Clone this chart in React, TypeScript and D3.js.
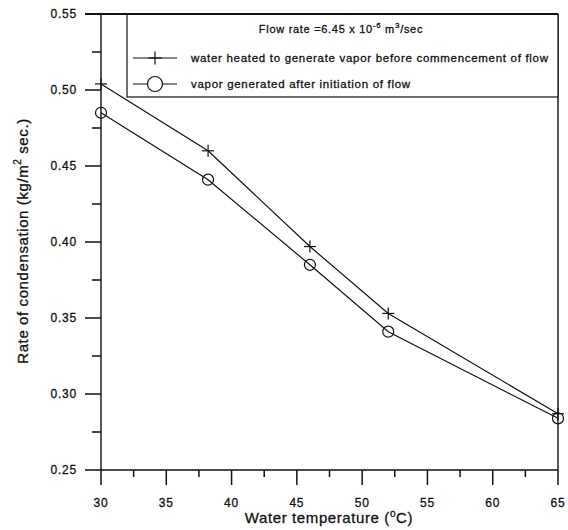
import React from "react";
import * as d3 from "d3";

// Water temperature (°C) at each measurement
const temperatures = [30, 38.2, 46, 52, 65];
// Rate of condensation (kg/m² sec.)
const preHeated = [0.504, 0.46, 0.397, 0.353, 0.287];
const afterFlow = [0.485, 0.441, 0.385, 0.341, 0.284];

const xTicks = [30, 35, 40, 45, 50, 55, 60, 65];
const yTicks = [0.25, 0.3, 0.35, 0.4, 0.45, 0.5, 0.55];

const seriesNames = [
  "water heated to generate vapor before commencement of flow",
  "vapor generated after initiation of flow",
];

const W = 568;
const H = 530;
const left = 101;
const right = 558;
const top = 14;
const bottom = 470;
const font = "Arial, 'Liberation Sans', Helvetica, sans-serif";
const ink = "#111";
// slight outline gives the lettering its heavier printed weight
const textStroke = { stroke: ink, strokeWidth: 0.3 };

export default function App() {
  const x = d3.scaleLinear().domain([30, 65]).range([left, right]);
  const y = d3.scaleLinear().domain([0.25, 0.55]).range([bottom, top]);

  const line = d3
    .line<number>()
    .x((_, i) => x(temperatures[i]))
    .y((d) => y(d));

  const xMinor = d3.range(32.5, 65, 5);
  const yMinor = d3.range(0.275, 0.55, 0.05);

  const plus = (cx: number, cy: number, s: number, key: string) => (
    <g key={key} stroke={ink} strokeWidth={1.2}>
      <line x1={cx - s} x2={cx + s} y1={cy} y2={cy} />
      <line x1={cx} x2={cx} y1={cy - s} y2={cy + s} />
    </g>
  );

  const tickPath =
    xTicks.map((t) => `M${x(t)},${bottom}V${bottom + 15}`).join("") +
    xMinor.map((t) => `M${x(t)},${bottom}V${bottom + 7}`).join("") +
    yTicks.map((t) => `M${left - 16},${y(t)}H${left}`).join("") +
    yMinor.map((t) => `M${left - 9},${y(t)}H${left}`).join("");

  return (
    <svg
      width={W}
      height={H}
      style={{ position: "absolute", left: 0, top: 0, background: "#fff" }}
      fontFamily={font}
    >
      {/* frame */}
      <g stroke={ink} fill="none">
        <line x1={left} x2={left} y1={top} y2={bottom} strokeWidth={1.4} />
        <line x1={left} x2={right} y1={bottom} y2={bottom} strokeWidth={1.4} />
        <line x1={right} x2={right} y1={top} y2={bottom} strokeWidth={1.4} />
        <line x1={left - 16} x2={right} y1={top} y2={top} strokeWidth={1.8} />
      </g>

      {/* axis ticks */}
      <path d={tickPath} fill="none" stroke={ink} strokeWidth={1.5} />
      <g fill={ink} fontSize={12} letterSpacing={0.8} {...textStroke}>
        {xTicks.map((t) => (
          <text key={"xl" + t} x={x(t)} y={507} textAnchor="middle">
            {t}
          </text>
        ))}
        {yTicks.map((t) => (
          <text key={"yl" + t} x={77} y={y(t)} dy="0.35em" textAnchor="end">
            {t.toFixed(2)}
          </text>
        ))}
      </g>

      {/* axis titles */}
      <text x={329} y={523} textAnchor="middle" fontSize={15} fill={ink} letterSpacing={0.6} {...textStroke}>
        Water temperature (
        <tspan fontSize={10} dy={-6}>o</tspan>
        <tspan dy={6}>C)</tspan>
      </text>
      <text
        transform={`translate(28,241) rotate(-90)`}
        textAnchor="middle"
        fontSize={15}
        fill={ink}
        letterSpacing={0.6}
        {...textStroke}
      >
        Rate of condensation (kg/m
        <tspan fontSize={10} dy={-7}>2</tspan>
        <tspan dy={7}> sec.)</tspan>
      </text>

      {/* series */}
      <path d={line(preHeated) ?? ""} fill="none" stroke={ink} strokeWidth={1.2} />
      <path d={line(afterFlow) ?? ""} fill="none" stroke={ink} strokeWidth={1.2} />
      {preHeated.map((v, i) => plus(x(temperatures[i]), y(v), 6, "p" + i))}
      {afterFlow.map((v, i) => (
        <circle
          key={"c" + i}
          cx={x(temperatures[i])}
          cy={y(v)}
          r={5.5}
          fill="none"
          stroke={ink}
          strokeWidth={1.2}
        />
      ))}

      {/* legend */}
      <rect x={127} y={top} width={right - 127} height={97 - top} fill="#fff" stroke={ink} strokeWidth={1.2} />
      <line x1={127} x2={right} y1={top} y2={top} stroke={ink} strokeWidth={1.8} />
      <text x={341} y={33} textAnchor="middle" fontSize={11} fill={ink} letterSpacing={0.7} {...textStroke}>
        Flow rate =6.45 x 10
        <tspan fontSize={8} dy={-5}>-6</tspan>
        <tspan dy={5}> m</tspan>
        <tspan fontSize={8} dy={-5}>3</tspan>
        <tspan dy={5}>/sec</tspan>
      </text>
      <g stroke={ink} strokeWidth={1.2}>
        <line x1={133} x2={177} y1={58} y2={58} />
        <line x1={133} x2={177} y1={84} y2={84} />
      </g>
      {plus(155, 58, 6.5, "lp")}
      <circle cx={155} cy={84} r={7.5} fill="#fff" stroke={ink} strokeWidth={1.2} />
      <g fontSize={11.5} fill={ink} letterSpacing={0.7} {...textStroke}>
        <text x={191} y={58} dy="0.35em">{seriesNames[0]}</text>
        <text x={191} y={84} dy="0.35em">{seriesNames[1]}</text>
      </g>
    </svg>
  );
}
